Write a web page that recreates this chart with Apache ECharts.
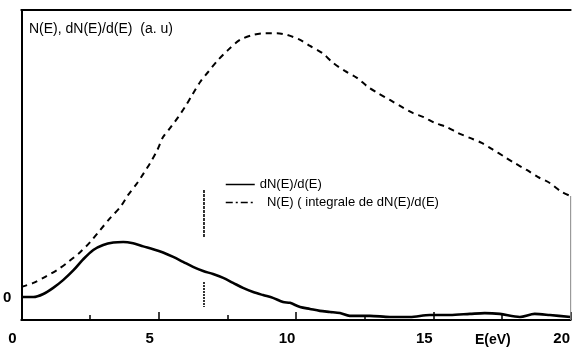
<!DOCTYPE html>
<html>
<head>
<meta charset="utf-8">
<script src="https://cdn.jsdelivr.net/npm/echarts@6/dist/echarts.min.js"></script>
<style>
  html, body { margin: 0; padding: 0; background: #fff; }
  #chart { width: 573px; height: 351px; }
</style>
</head>
<body>
<div id="chart"></div>
<script>
// Energy axis (eV) and the derivative spectrum dN(E)/d(E)
const energyD = [0, 0.44, 0.80, 1.16, 1.53, 1.89, 2.25, 2.62, 2.98, 3.35, 3.71, 4.07, 4.44,
  4.80, 5.16, 5.53, 5.89, 6.25, 6.62, 6.98, 7.35, 7.71, 8.07, 8.44, 8.80, 9.16, 9.53,
  9.78, 10.15, 10.51, 10.87, 11.24, 11.60, 11.96, 12.69, 13.42, 14.15, 14.87, 15.60,
  16.33, 16.87, 17.42, 18.15, 18.69, 19.24, 20.0];
const dNdE = [0.3, 0.3, 1.4, 3.6, 6.5, 9.9, 13.9, 17.3, 19.1, 20.0, 20.2, 19.7, 18.6,
  17.6, 16.4, 14.8, 13.0, 11.2, 9.7, 8.6, 7.2, 5.4, 3.6, 2.1, 1.0, 0.0, -1.5,
  -1.8, -3.3, -4.0, -4.7, -5.1, -5.5, -6.5, -6.5, -6.9, -6.9, -6.2, -6.2,
  -5.8, -5.5, -5.8, -6.9, -5.8, -6.2, -6.9];

// Energy axis (eV) and the integrated spectrum N(E)
const energyN = [0, 0.44, 0.87, 1.31, 1.71, 2.15, 2.51, 2.87, 3.24, 3.60, 3.89, 4.22, 4.44,
  4.69, 4.95, 5.16, 5.42, 5.71, 5.96, 6.22, 6.51, 6.80, 7.16, 7.53, 7.96, 8.44, 8.87,
  9.31, 9.67, 10.15, 10.51, 10.95, 11.35, 11.78, 12.22, 12.62, 12.98, 13.42, 13.85,
  14.25, 14.65, 15.05, 15.49, 15.89, 16.33, 16.76, 17.13, 17.60, 17.96, 18.40, 18.80,
  19.24, 19.67, 20.0];
const nE = [4.0, 5.4, 7.6, 10.1, 13.0, 16.6, 20.2, 24.5, 28.9, 32.8, 37.2, 41.5, 44.8,
  48.7, 53.4, 58.1, 61.4, 65.3, 69.0, 73.3, 78.0, 81.6, 85.9, 89.6, 93.2, 95.0, 95.6,
  95.6, 95.0, 93.2, 91.0, 88.5, 84.9, 82.0, 79.5, 76.2, 74.0, 71.5, 69.0,
  66.8, 65.3, 63.2, 61.7, 59.6, 57.8, 56.0, 53.8, 50.9, 48.7, 46.2, 43.7,
  41.5, 38.3, 36.8];

// Vertical marker at ~6.65 eV (interrupted where it crosses the curve)
const markerE = 6.65;
const markerUpper = [39, 22];
const markerLower = [5.7, -3.3];

// Tick labels
const xTickLabels = ['0', '5', '10', '15', '20'];
const yTickLabels = ['0'];

const seriesNames = ['dN(E)/d(E)', 'N(E) ( integrale de dN(E)/d(E)'];

const FONT = "'Liberation Sans', Arial, sans-serif";
const zip = (xs, ys) => xs.map((x, i) => [x, ys[i]]);

const chart = echarts.init(document.getElementById('chart'), null, { renderer: 'canvas' });

chart.setOption({
  backgroundColor: '#ffffff',
  animation: false,
  color: ['#000000', '#000000'],
  title: {
    text: 'N(E), dN(E)/d(E)  (a. u)',
    left: 29, top: 22,
    padding: 0,
    textStyle: { fontFamily: FONT, fontSize: 14, fontWeight: 'normal', color: '#000' }
  },
  graphic: [{
    type: 'text',
    left: 475, top: 333,
    style: { text: 'E(eV)', font: 'bold 14px ' + FONT, fill: '#000' }
  }],
  legend: {
    show: true,
    orient: 'vertical',
    left: 225, top: 178,
    padding: 0,
    itemWidth: 29, itemHeight: 10, itemGap: 5,
    itemStyle: { opacity: 0 },
    lineStyle: { width: 1.5 },
    textStyle: { fontFamily: FONT, fontSize: 13, color: '#000' },
    formatter: (name) => (name === seriesNames[1] ? '  ' + name : name),
    data: [
      { name: seriesNames[0] },
      { name: seriesNames[1], lineStyle: { type: [7, 3, 2, 3] } }
    ]
  },
  grid: { left: 21, right: 2, top: 10, bottom: 31 },
  xAxis: [{
    type: 'value',
    min: 0, max: 20, interval: 5,
    axisLine: { show: true, onZero: false, lineStyle: { color: '#000', width: 2 } },
    axisTick: { show: true, inside: true, length: 8, lineStyle: { color: '#000', width: 1.5 } },
    minorTick: { show: true, splitNumber: 2, length: 5, lineStyle: { color: '#000', width: 1.5 } },
    splitLine: { show: false },
    axisLabel: {
      margin: 11,
      fontFamily: FONT, fontSize: 15, fontWeight: 'bold', color: '#000',
      padding: [0, 18, 0, 0],
      formatter: (v) => xTickLabels[Math.round(v / 5)] || ''
    }
  }, {
    type: 'value',
    position: 'top',
    min: 0, max: 20,
    axisLine: { show: true, onZero: false, lineStyle: { color: '#000', width: 2 } },
    axisTick: { show: false },
    axisLabel: { show: false },
    splitLine: { show: false }
  }],
  yAxis: {
    type: 'value',
    min: -8, max: 104, interval: 8,
    axisLine: { show: true, onZero: false, lineStyle: { color: '#000', width: 2 } },
    axisTick: { show: false },
    splitLine: { show: false },
    axisLabel: {
      margin: 10,
      fontFamily: FONT, fontSize: 15, fontWeight: 'bold', color: '#000',
      formatter: (v) => (v === 0 ? yTickLabels[0] : '')
    }
  },
  series: [
    {
      name: seriesNames[0],
      type: 'line',
      symbol: 'none',
      smooth: 0.3,
      data: zip(energyD, dNdE),
      itemStyle: { color: '#000' },
      lineStyle: { color: '#000', width: 2.6 }
    },
    {
      name: seriesNames[1],
      type: 'line',
      symbol: 'none',
      smooth: 0.3,
      data: zip(energyN, nE),
      itemStyle: { color: '#000' },
      lineStyle: { color: '#000', width: 2, type: [6, 5] }
    },
    {
      type: 'line',
      symbol: 'none',
      data: markerUpper.map(v => [markerE, v]),
      lineStyle: { color: '#000', width: 1.6, type: [3, 1] }
    },
    {
      type: 'line',
      symbol: 'none',
      data: markerLower.map(v => [markerE, v]),
      lineStyle: { color: '#000', width: 1.6, type: [2, 1] }
    },
    {
      // right frame edge below the end of N(E)
      type: 'line',
      symbol: 'none',
      data: [[20, nE[nE.length - 1]], [20, -8]],
      lineStyle: { color: '#888', width: 1 }
    }
  ]
});
</script>
</body>
</html>
